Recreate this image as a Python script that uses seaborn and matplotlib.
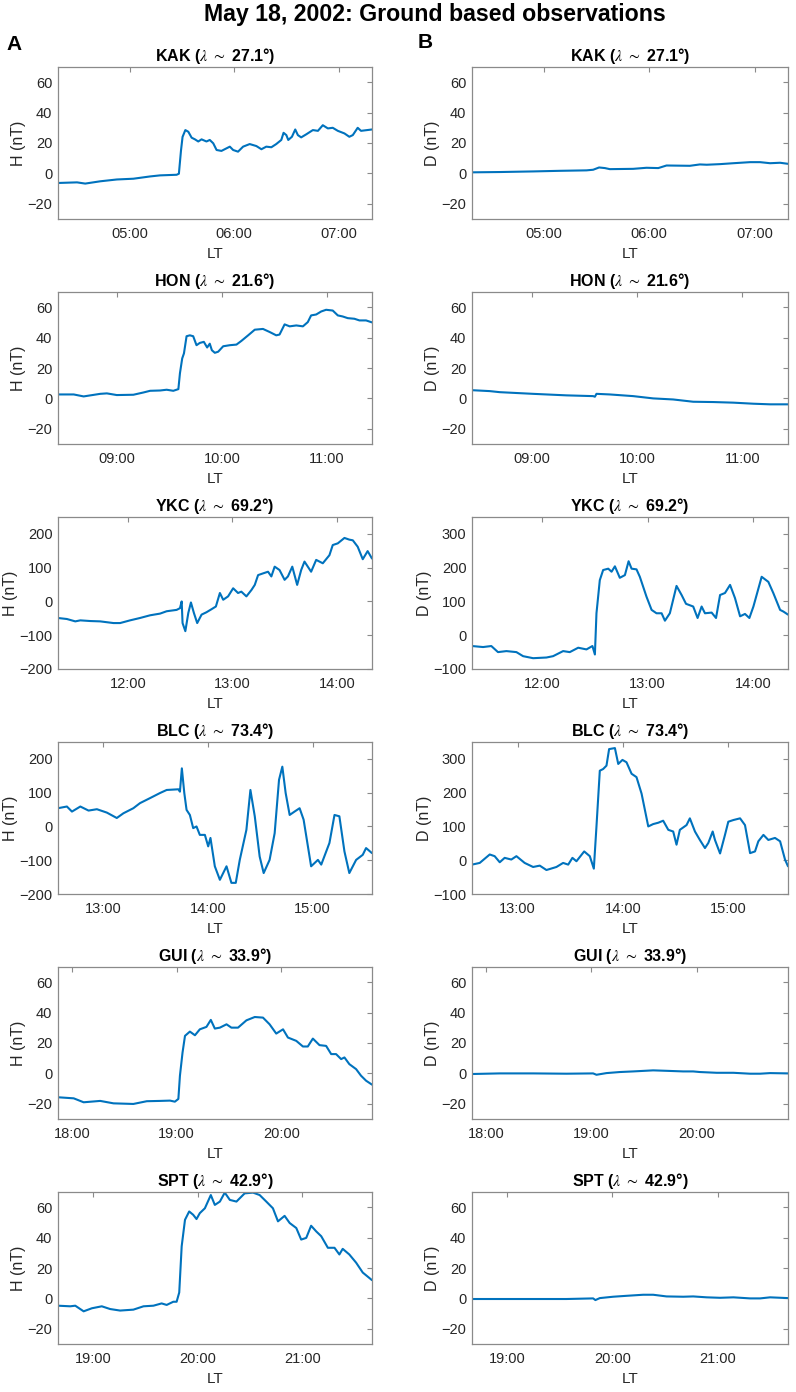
import numpy as np
import matplotlib
matplotlib.use('Agg')
import matplotlib.pyplot as plt
from matplotlib.ticker import FuncFormatter, MultipleLocator
import seaborn as sns

# stations, geomagnetic latitude and local time at the left edge of each 3 h window
stations = ['KAK', 'HON', 'YKC', 'BLC', 'GUI', 'SPT']
latitudes = [27.1, 21.6, 69.2, 73.4, 33.9, 42.9]
lt_start_min = [259, 506, 680, 754, 1072, 1120]

# H component (nT), time in minutes from window start
kak_h_t = [0, 10.9, 15.6, 24.2, 33.7, 43.2, 52.8, 58.5, 68, 69.3,
           70.5, 71.4, 73, 74.7, 76.6, 78.5, 80.4, 82.3, 85.1, 87,
           89, 90.9, 93.7, 96.6, 98.5, 100.4, 103.2, 106.1, 109.9, 113.7,
           116.6, 119.4, 122.3, 125.1, 128, 129.3, 130.9, 132, 134.1, 136,
           137.5, 139.4, 142.3, 146.1, 149, 151.8, 154.7, 157.5, 160.4, 164.2,
           167, 169, 171.8, 173.7, 180]
kak_h = [-6.3, -5.9, -6.7, -5.2, -4.0, -3.5, -2.0, -1.3, -0.9, -0.2,
         15, 24, 28.5, 27.4, 23.5, 22.4, 21, 22.4, 21, 22,
         19.8, 15.4, 14.8, 16.5, 17.6, 15.4, 14.3, 17.6, 19.3, 18,
         15.9, 17.6, 17.2, 19.3, 22, 26.7, 25.2, 22, 24.1, 28.9,
         25.2, 23.7, 25.7, 28.5, 28, 31.7, 29.6, 30, 28, 26.3,
         24.1, 25.2, 30, 28, 28.9]

hon_h_t = [0, 9, 14.7, 24.2, 28, 33.7, 43.2, 49, 52.8, 58.5,
           62.3, 66.1, 69, 69.9, 71.2, 72.2, 73.7, 75.6, 77.5, 79.4,
           81.3, 83.6, 85.5, 87, 88.2, 89.9, 91.8, 94.7, 98.5, 102.3,
           105.1, 109, 112.8, 117.5, 121.3, 125.1, 127, 129.9, 132.8, 136.6,
           140.4, 143.2, 145.1, 148, 150.9, 153.7, 157.5, 160.4, 163.2, 166.1,
           169.9, 172.8, 176.6, 180]
hon_h = [2.6, 2.6, 1.3, 3, 3.3, 2.2, 2.4, 3.9, 5, 5.2,
         5.7, 5, 6.1, 16.5, 26.3, 29.6, 40.9, 41.5, 40.9, 35,
         36.5, 37.2, 33.5, 36, 31.7, 30, 30.7, 34.3, 35, 35.4,
         37.8, 41.5, 45.2, 45.7, 43.7, 41.5, 42, 48.7, 47.4, 48,
         47.4, 50.2, 54.6, 55.2, 57.2, 58.3, 57.8, 54.6, 53.9, 52.8,
         52.4, 51.3, 51.3, 50]

ykc_h_t = [0, 5.1, 9.9, 12.8, 18.5, 24.2, 31.8, 35.6, 41.3, 47,
           52.8, 58.5, 62.3, 68, 69.9, 70.9, 71.4, 73, 74.7, 76.2,
           77.9, 79.8, 82.3, 85.1, 88, 90.5, 92.8, 94.7, 97.5, 100.4,
           103.2, 105.1, 108, 110.9, 112.8, 114.7, 117.5, 120.4, 122.3, 124.2,
           127, 129.9, 131.8, 134.3, 137.1, 139.4, 141.3, 145.1, 148, 151.8,
           155.6, 157.5, 160.4, 164.2, 167, 169, 171.8, 174.7, 177.5, 180]
ykc_h = [-49, -52, -59, -56, -58, -59, -64, -64, -56, -49,
         -41, -36, -29, -25, -20, 0, -64, -88, -34, -3,
         -34, -64, -39, -32, -23, -15, 25, 5, 15, 39,
         25, 29, 15, 34, 49, 78, 83, 88, 74, 103,
         93, 64, 74, 103, 49, 93, 118, 88, 123, 113,
         137, 167, 172, 188, 183, 181, 162, 125, 149, 127]

blc_h_t = [0, 5.1, 8, 12.8, 17.5, 22.3, 28, 33.7, 37.5, 43.2,
           47, 52.8, 58.5, 62.3, 69, 69.9, 71, 72.4, 73.7, 75.6,
           77.5, 79.4, 81.3, 84.2, 86.1, 87.4, 89.9, 92.8, 94.7, 96.6,
           99.4, 101.9, 104.2, 108, 110.3, 112.8, 115.6, 117.9, 121.3, 124.2,
           126.7, 128.6, 130.5, 132.8, 135.6, 138.5, 140.8, 145.1, 149, 150.9,
           155.6, 158.5, 161.3, 164.2, 167, 170.9, 174.7, 176.6, 180]
blc_h = [54, 59, 44, 59, 47, 51, 41, 25, 39, 54,
         69, 84, 99, 108, 110, 103, 172, 99, 49, 34,
         -5, 0, -25, -25, -59, -34, -118, -158, -138, -118,
         -167, -167, -99, -10, 108, 30, -89, -138, -99, -20,
         138, 177, 99, 34, 44, 54, 20, -118, -99, -113,
         -49, 34, 30, -74, -138, -99, -84, -64, -79]

gui_h_t = [0, 9, 14.7, 24.2, 31.8, 43.2, 50.9, 58.5, 64.2, 67,
           69, 69.9, 71.4, 72.8, 75.6, 78.5, 81.3, 85.1, 87.6, 89.9,
           92.8, 96.6, 99.4, 103.2, 108, 112.8, 117.5, 121.3, 125.1, 129,
           131.8, 136.6, 140.4, 143.2, 146.1, 149.9, 153.7, 156.6, 159.4, 162.3,
           164.2, 167, 170.9, 173.7, 176.6, 180]
gui_h = [-15.7, -16.4, -19, -18.1, -19.7, -20.1, -18.3, -18.1, -17.9, -18.6,
         -16.8, -1.5, 13.8, 24.7, 27.5, 25.1, 29, 30.6, 35.2, 29.5,
         30.1, 32.3, 30.1, 30.1, 34.9, 37.1, 36.7, 32.3, 26.2, 29,
         23.6, 21.4, 17.7, 17.7, 22.9, 18.6, 18.1, 12.7, 12.7, 9.4,
         10.5, 6.1, 2.8, -1.5, -4.8, -7.4]

spt_h_t = [0, 7, 9.9, 14.7, 19.4, 25.1, 29.9, 35.6, 43.2, 49,
           54.7, 59.4, 62.3, 66.1, 68, 69.5, 70.9, 72.8, 75.2, 77.5,
           79.4, 81.3, 84.2, 87.6, 89.9, 92.8, 95.6, 98.5, 102.3, 107,
           111.8, 115.6, 119.4, 123.2, 126.1, 129.9, 132.8, 136.6, 139.4, 142.3,
           145.1, 148, 150.9, 154.7, 158.5, 161.3, 163.2, 167, 170.9, 174.7,
           180]
spt_h = [-4.8, -5.2, -4.8, -8.5, -6.5, -5.2, -7, -8, -7.4, -5.2,
         -4.8, -3.3, -4.3, -2.2, -2.2, 3.9, 34.3, 51.7, 57.2, 55,
         52.2, 56.1, 59.3, 68, 61.5, 63.7, 69.6, 64.8, 63.7, 69.1,
         69.6, 68, 63.7, 59.3, 50.7, 54.3, 49.6, 46.3, 38.7, 39.8,
         47.8, 44.1, 40.9, 33.3, 33.3, 28.9, 32.6, 28.9, 23.5, 17,
         12]

# D component (nT)
kak_d_t = [0, 15.8, 34.8, 50, 65.2, 69, 72.4, 75.7, 78.5, 91.8,
           99.4, 106.1, 110.8, 124.1, 129.8, 133.7, 141.3, 148.9, 158.4, 164.1,
           169.8, 175.5, 180]
kak_d = [0.7, 0.9, 1.3, 1.7, 2, 2.4, 3.9, 3.5, 2.8, 3,
         3.7, 3.5, 5.2, 5, 5.9, 5.7, 6.1, 6.7, 7.4, 7.4,
         6.7, 7, 6.3]

hon_d_t = [0, 10.1, 15.8, 34.8, 53.8, 69, 70, 70.9, 78.5, 91.8,
           103.2, 114.6, 126, 137.5, 148.9, 160.3, 169.8, 180]
hon_d = [5.4, 4.8, 4.1, 3, 2, 1.5, 1.1, 3, 2.6, 1.5,
         0, -0.7, -2.2, -2.4, -2.8, -3.5, -3.9, -3.9]

ykc_d_t = [0, 6.3, 11, 14.8, 19.6, 25.3, 29.1, 34.8, 42.4, 46.2,
           51.9, 55.7, 60.5, 65.2, 68.6, 70, 70.9, 72.8, 74.7, 77.6,
           79.5, 81.4, 84.2, 87.1, 89.2, 90.9, 93.7, 95.6, 99.4, 102.3,
           105.1, 108, 109.9, 112.7, 116.5, 119.4, 121.9, 126, 128.5, 130.8,
           132.7, 136.5, 139, 141.3, 144.1, 147, 149.8, 152.7, 155.5, 158,
           160.3, 165, 168.8, 171.7, 175.5, 177.4, 180]
ykc_d = [-32, -35, -32, -50, -47, -50, -62, -68, -66, -62,
         -47, -50, -37, -42, -32, -57, 65, 163, 193, 197,
         188, 204, 170, 178, 219, 197, 195, 173, 114, 75,
         65, 65, 43, 65, 146, 119, 93, 85, 51, 85,
         65, 67, 51, 119, 125, 149, 110, 56, 63, 51,
         85, 173, 158, 124, 75, 70, 61]

blc_d_t = [0, 4.4, 10.1, 12.9, 15.8, 18.6, 22.4, 25.3, 30, 34.8,
           38.6, 42.4, 48.1, 51.9, 54.8, 57.2, 59.5, 63.9, 67.1, 69.4,
           70.9, 72.8, 74.7, 76.6, 78.1, 81.4, 83.3, 85.7, 88, 90.9,
           93.7, 96.6, 100.4, 103.2, 106.1, 108.9, 111.8, 114.6, 116.5, 118.4,
           122.2, 124.1, 127, 129.8, 132.7, 134.6, 137.1, 138.4, 141.3, 144.1,
           146, 148.9, 152.7, 155.5, 158.4, 161.2, 163.1, 166, 168.8, 172.6,
           175.5, 178.3, 180]
blc_d = [-13, -8, 17, 12, -6, 7, 2, 12, -8, -20,
         -16, -29, -20, -8, -13, 7, -3, 26, 12, -25,
         100, 265, 270, 280, 329, 332, 285, 297, 290, 256,
         246, 197, 100, 107, 111, 117, 90, 85, 46, 90,
         104, 124, 85, 60, 36, 51, 85, 60, 20, 75,
         114, 119, 124, 104, 21, 26, 56, 75, 60, 66,
         56, 2, -18]

gui_d_t = [0, 15.8, 34.8, 53.8, 69, 70.9, 76.6, 84.2, 91.8, 103.2,
           110.8, 120.3, 126, 129.8, 139.4, 148.9, 158.4, 164.1, 169.8, 180]
gui_d = [-0.4, 0, 0, -0.2, 0, -0.9, 0.2, 0.9, 1.3, 2,
         1.7, 1.3, 1.3, 0.9, 0.4, 0.4, -0.2, -0.2, 0.2, 0]

spt_d_t = [0, 15.8, 34.8, 53.8, 69, 70.3, 72.8, 80.4, 88, 97.5,
           103.2, 110.8, 120.3, 126, 133.7, 141.3, 148.9, 158.4, 164.1, 169.8,
           180]
spt_d = [-0.4, -0.4, -0.4, -0.4, 0, -1.1, 0.2, 1.1, 1.7, 2.4,
         2.4, 1.3, 1.1, 1.3, 0.7, 0.4, 0.7, 0, 0, 0.7,
         0.2]

h_series = [(kak_h_t, kak_h), (hon_h_t, hon_h), (ykc_h_t, ykc_h),
            (blc_h_t, blc_h), (gui_h_t, gui_h), (spt_h_t, spt_h)]
d_series = [(kak_d_t, kak_d), (hon_d_t, hon_d), (ykc_d_t, ykc_d),
            (blc_d_t, blc_d), (gui_d_t, gui_d), (spt_d_t, spt_d)]

h_ylims = [(-30, 70), (-30, 70), (-200, 250), (-200, 250), (-30, 70), (-30, 70)]
d_ylims = [(-30, 70), (-30, 70), (-100, 350), (-100, 350), (-30, 70), (-30, 70)]
h_ystep = [20, 20, 100, 100, 20, 20]
d_ystep = [20, 20, 100, 100, 20, 20]

sns.set_theme(style='white')
plt.rcParams['font.family'] = ['Liberation Sans', 'DejaVu Sans']
plt.rcParams['mathtext.fontset'] = 'stix'

line_color = '#0072BD'
box_color = '#8a8a8a'
text_color = '#262626'

W, H = 796, 1392
fig = plt.figure(figsize=(W / 100, H / 100), dpi=100)

col_left = [58, 472]
col_width = [314, 316]
row_top = [67, 292, 517, 742, 967, 1192]
ax_h = 152


def hhmm(x, pos):
    m = int(round(x * 60)) % (24 * 60)
    return f'{m // 60:02d}:{m % 60:02d}'


for col, (series, ylims, ysteps, comp) in enumerate(
        [(h_series, h_ylims, h_ystep, 'H'), (d_series, d_ylims, d_ystep, 'D')]):
    for row in range(6):
        ax = fig.add_axes([col_left[col] / W, 1 - (row_top[row] + ax_h) / H,
                           col_width[col] / W, ax_h / H])
        t, v = series[row]
        lt = (lt_start_min[row] + np.array(t)) / 60.0
        sns.lineplot(x=lt, y=np.array(v), ax=ax, color=line_color, lw=1.5,
                     estimator=None, sort=False)
        x0 = lt_start_min[row] / 60.0
        ax.set_xlim(x0, x0 + 3)
        ax.set_ylim(*ylims[row])
        ax.xaxis.set_major_locator(MultipleLocator(1))
        ax.xaxis.set_major_formatter(FuncFormatter(hhmm))
        ax.yaxis.set_major_locator(MultipleLocator(ysteps[row]))
        ax.tick_params(direction='in', length=3.5, width=0.8, color=box_color,
                       top=True, right=True, labelsize=10.5, labelcolor=text_color)
        ax.tick_params(axis='x', pad=6)
        ax.tick_params(axis='y', pad=4)
        for sp in ax.spines.values():
            sp.set_color(box_color)
            sp.set_linewidth(0.9)
        ax.set_xlabel('LT', fontsize=11, color=text_color, labelpad=4)
        ax.set_ylabel(f'{comp} (nT)', fontsize=11.5, color=text_color, labelpad=1)
        ax.set_title(rf'{stations[row]} ($\lambda$ $\sim$ {latitudes[row]}°)',
                     fontsize=11.5, fontweight='bold', color='black', pad=4)

fig.text(435 / W, 1 - 15 / H, 'May 18, 2002: Ground based observations',
         ha='center', va='center', fontsize=16.7, fontweight='bold', color='black')
fig.text(14 / W, 1 - 45 / H, 'A', ha='center', va='center', fontsize=15,
         fontweight='bold', color='black')
fig.text(425 / W, 1 - 43 / H, 'B', ha='center', va='center', fontsize=15,
         fontweight='bold', color='black')

fig.savefig('out.png', dpi=100)
